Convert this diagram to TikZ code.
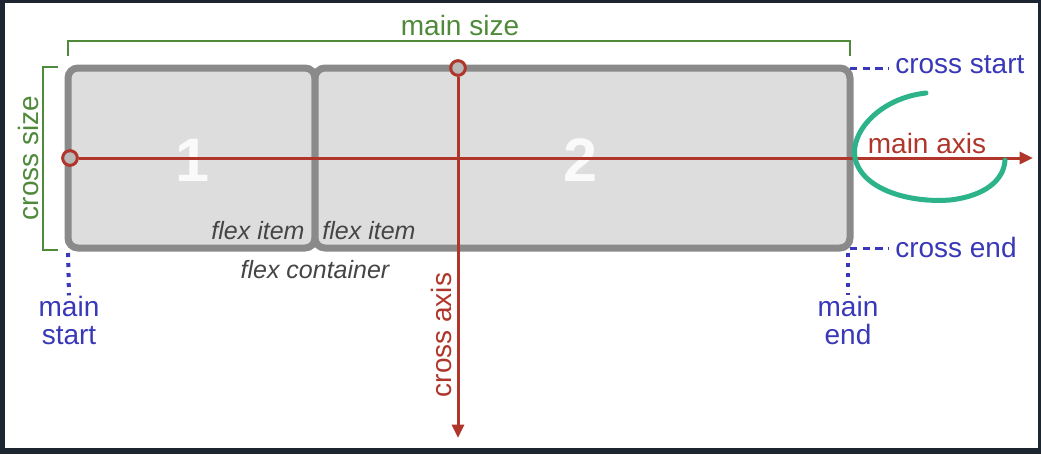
\documentclass[tikz,border=0pt]{standalone}
\usepackage{fontspec}
\setmainfont{Liberation Sans}
\usetikzlibrary{arrows.meta}

\definecolor{framedark}{HTML}{1C2530}
\definecolor{boxgray}{HTML}{8A8A8A}
\definecolor{boxfill}{HTML}{DDDDDD}
\definecolor{axisred}{HTML}{B0362C}
\definecolor{sizegreen}{HTML}{4E8A3A}
\definecolor{edgeblue}{HTML}{3838B8}
\definecolor{swirl}{HTML}{2DB38A}
\definecolor{itemtext}{HTML}{454545}

\begin{document}
\begin{tikzpicture}[x=0.75pt,y=-0.75pt,
  lbl/.style={font=\fontsize{21}{21}\selectfont, inner sep=0pt, align=center},
  itemlbl/.style={font=\fontsize{18.75}{19}\selectfont\itshape, text=itemtext, inner sep=0pt},
  item/.style={draw=boxgray, fill=boxfill, line width=5.25pt, rounded corners=7.5pt},
  bignum/.style={font=\fontsize{46}{46}\selectfont\bfseries, text=white!85!boxfill, inner sep=0pt},
  axis/.style={axisred, line width=2.25pt, -{Triangle[length=10pt,width=9pt]}},
  marker/.style={circle, draw=axisred, line width=2.25pt, fill=boxgray!60, minimum size=11pt, inner sep=0pt},
  bracket/.style={sizegreen, line width=1.5pt},
  edgedash/.style={edgeblue, line width=2.25pt, dash pattern=on 5.5pt off 4pt},
  edgedot/.style={edgeblue, line width=3pt, dash pattern=on 3pt off 4.5pt}]

  % screen frame
  \fill[framedark] (0,0) rectangle (1041,454);
  \fill[white] (5,3) rectangle (1038,448);
  \useasboundingbox (0,0) rectangle (1041,454);

  % flex items inside the container
  \draw[item] (68,68) rectangle (315,248);
  \draw[item] (315,68) rectangle (850,248);
  \node[bignum] (one) at (193,160) {1};
  \node[bignum] (two) at (581,160) {2};
  \node[itemlbl] (itemA) at (258,231) {flex item};
  \node[itemlbl] (itemB) at (369,231) {flex item};
  \node[itemlbl] (cont) at (315,270) {flex container};

  % sizes
  \coordinate (msA) at (68,56);
  \coordinate (msB) at (850,56);
  \draw[bracket] (msA) -- ++(0,-15) -| (msB);
  \node[lbl, text=sizegreen] (mainsize) at (460,25) {main size};
  \coordinate (csA) at (58,67);
  \coordinate (csB) at (58,250);
  \draw[bracket] (csA) -- ++(-15,0) |- (csB);
  \node[lbl, text=sizegreen, rotate=90] (crosssize) at (28,158) {cross size};

  % axes
  \node[marker] (mstart) at (70,158) {};
  \node[marker] (cstart) at (458,68) {};
  \coordinate (mtip) at (1033,158);
  \coordinate (ctip) at (458,438);
  \draw[axis] (mstart) -- (mtip);
  \draw[axis] (cstart) -- (ctip);
  \node[lbl, text=axisred] (mainaxis) at (927,143) {main axis};
  \node[lbl, text=axisred, rotate=90] (crossaxis) at (441,335) {cross axis};

  % start / end marks
  \node[lbl, text=edgeblue, anchor=west] (cst) at (895,65) {cross start};
  \node[lbl, text=edgeblue, anchor=west] (cend) at (895,247) {cross end};
  \coordinate (cstA) at (850,68);
  \coordinate (cstB) at (889,68);
  \coordinate (cendA) at (850,248);
  \coordinate (cendB) at (889,248);
  \draw[edgedash] (cstA) -- (cstB);
  \draw[edgedash] (cendA) -- (cendB);
  \node[lbl, text=edgeblue] (mst) at (69,320) {main\\start};
  \node[lbl, text=edgeblue] (mend) at (848,320) {main\\end};
  \coordinate (mstA) at (68,253);
  \coordinate (mendA) at (848,253);
  \draw[edgedot] (mstA) -- (mst.north);
  \draw[edgedot] (mendA) -- (mend.north);

  % hand drawn swirl
  \draw[swirl, line width=3.75pt, line cap=round]
    (926,93) .. controls (880,98) and (850,132) .. (855,158)
    .. controls (862,190) and (910,203) .. (950,200)
    .. controls (985,196) and (1004,180) .. (1005,160);
\end{tikzpicture}
\end{document}
